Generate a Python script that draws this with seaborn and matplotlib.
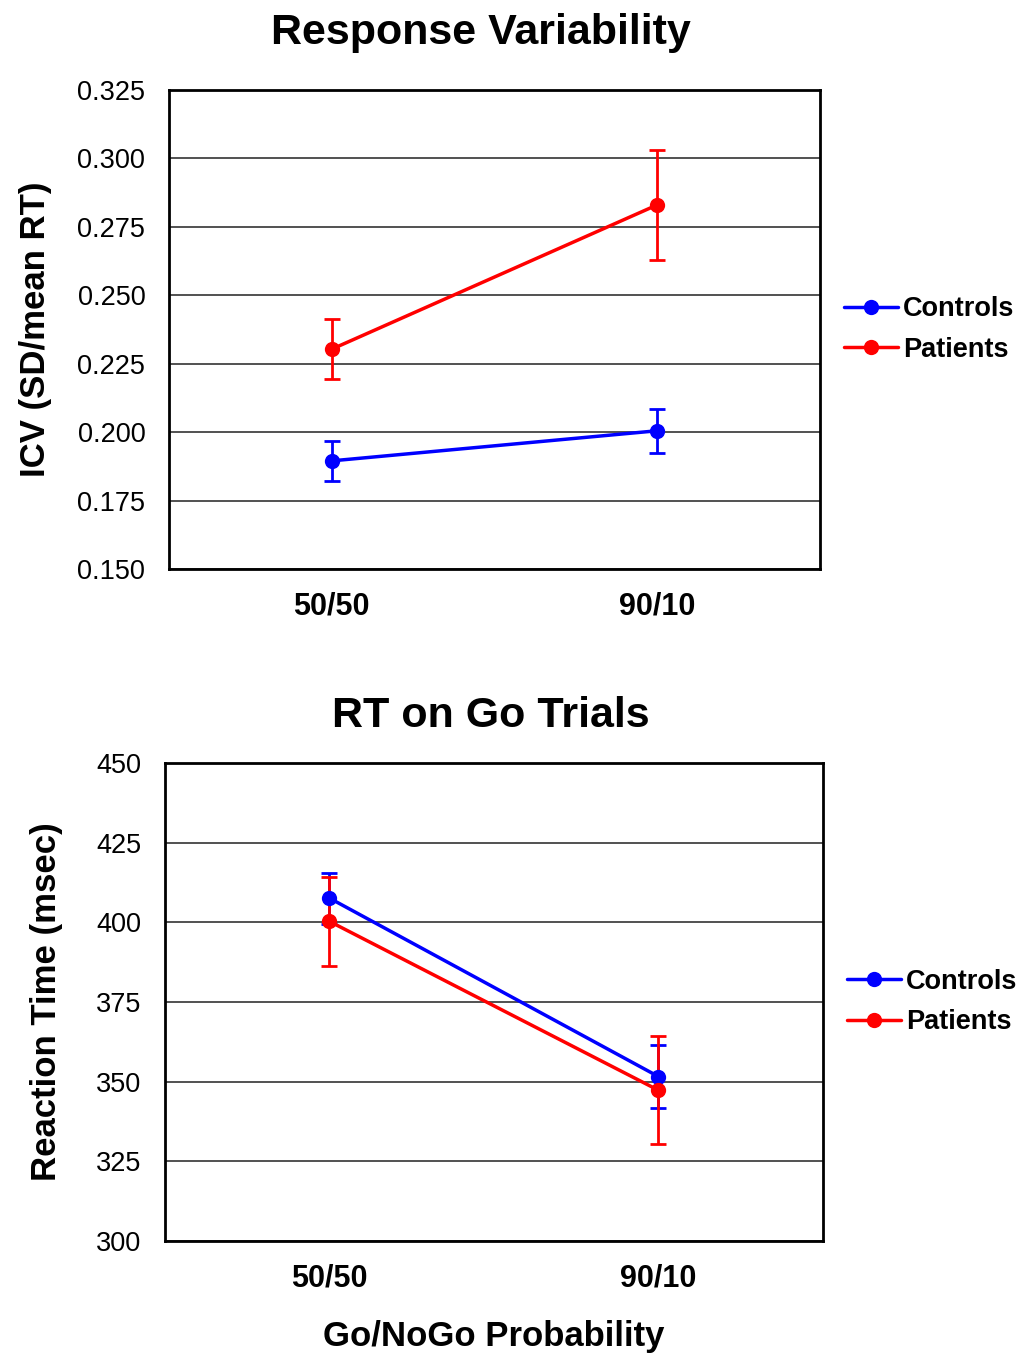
import matplotlib
matplotlib.use('Agg')
import matplotlib.pyplot as plt
import seaborn as sns
import pandas as pd

sns.set_theme(style='white')
plt.rcParams['font.family'] = ['Liberation Sans', 'DejaVu Sans']
plt.rcParams.update({'text.color': 'black', 'axes.labelcolor': 'black',
                     'xtick.color': 'black', 'ytick.color': 'black'})

# data
conditions = ['50/50', '90/10']
groups = ['Controls', 'Patients']
group_colors = {'Controls': '#0000ff', 'Patients': '#ff0000'}

icv_controls = [0.1895, 0.2005]
icv_patients = [0.2303, 0.2830]
icv_err_controls = [0.0072, 0.0080]
icv_err_patients = [0.0110, 0.0200]

rt_controls = [407.6, 351.6]
rt_patients = [400.3, 347.3]
rt_err_controls = [8.0, 9.8]
rt_err_patients = [14.0, 17.0]

icv_ticks = [0.150, 0.175, 0.200, 0.225, 0.250, 0.275, 0.300, 0.325]
rt_ticks = [300, 325, 350, 375, 400, 425, 450]


def make_df(ctrl, pat, ectrl, epat):
    rows = []
    for g, vals, errs in [('Controls', ctrl, ectrl), ('Patients', pat, epat)]:
        for i, c in enumerate(conditions):
            rows.append({'group': g, 'cond': c, 'x': i, 'value': vals[i], 'err': errs[i]})
    return pd.DataFrame(rows)


def draw_panel(ax, df, ticks, fmt, title, title_x, title_pad, ylabel, ylabel_x):
    for g in groups:
        sub = df[df['group'] == g]
        ax.errorbar(sub['x'], sub['value'], yerr=sub['err'], fmt='none',
                    ecolor=group_colors[g], elinewidth=2, capsize=6, capthick=2, zorder=3)
    sns.lineplot(data=df, x='x', y='value', hue='group', hue_order=groups,
                 palette=group_colors, marker='o', markersize=11, markeredgewidth=0,
                 linewidth=2.5, ax=ax, zorder=4)
    ax.set_xlim(-0.5, 1.5)
    ax.set_ylim(ticks[0], ticks[-1])
    ax.set_yticks(ticks)
    ax.set_yticklabels([fmt.format(t) for t in ticks], fontsize=19.5)
    ax.set_xticks(range(len(conditions)))
    ax.set_xticklabels(conditions, fontsize=22, fontweight='bold')
    ax.tick_params(axis='x', length=0, pad=16)
    ax.tick_params(axis='y', length=0, pad=17)
    ax.yaxis.grid(True, color='#333333', linewidth=1.2)
    ax.xaxis.grid(False)
    for s in ax.spines.values():
        s.set_color('black')
        s.set_linewidth(2)
    ax.set_title(title, fontsize=31, fontweight='bold', pad=title_pad, x=title_x)
    ax.set_ylabel(ylabel, fontsize=25, fontweight='bold')
    ax.yaxis.set_label_coords(ylabel_x, 0.5)
    ax.set_xlabel('')
    ax.legend(loc='center left', bbox_to_anchor=(0.995, 0.5), frameon=False,
              prop={'weight': 'bold', 'size': 19.5}, handlelength=2.0,
              handletextpad=0.2, labelspacing=0.55, borderaxespad=0.6)


fig = plt.figure(figsize=(10.21, 13.57), dpi=100)

ax1 = fig.add_axes([0.1655, 0.5807, 0.6375, 0.3530])
draw_panel(ax1, make_df(icv_controls, icv_patients, icv_err_controls, icv_err_patients),
           icv_ticks, '{:.3f}', 'Response Variability', 0.479, 33, 'ICV (SD/mean RT)', -0.179)

ax2 = fig.add_axes([0.1616, 0.0855, 0.6444, 0.3522])
draw_panel(ax2, make_df(rt_controls, rt_patients, rt_err_controls, rt_err_patients),
           rt_ticks, '{:d}', 'RT on Go Trials', 0.495, 26, 'Reaction Time (msec)', -0.155)
ax2.set_xlabel('Go/NoGo Probability', fontsize=25, fontweight='bold')
ax2.xaxis.set_label_coords(0.5, -0.165)

fig.savefig('out.png', dpi=100, facecolor='white')
